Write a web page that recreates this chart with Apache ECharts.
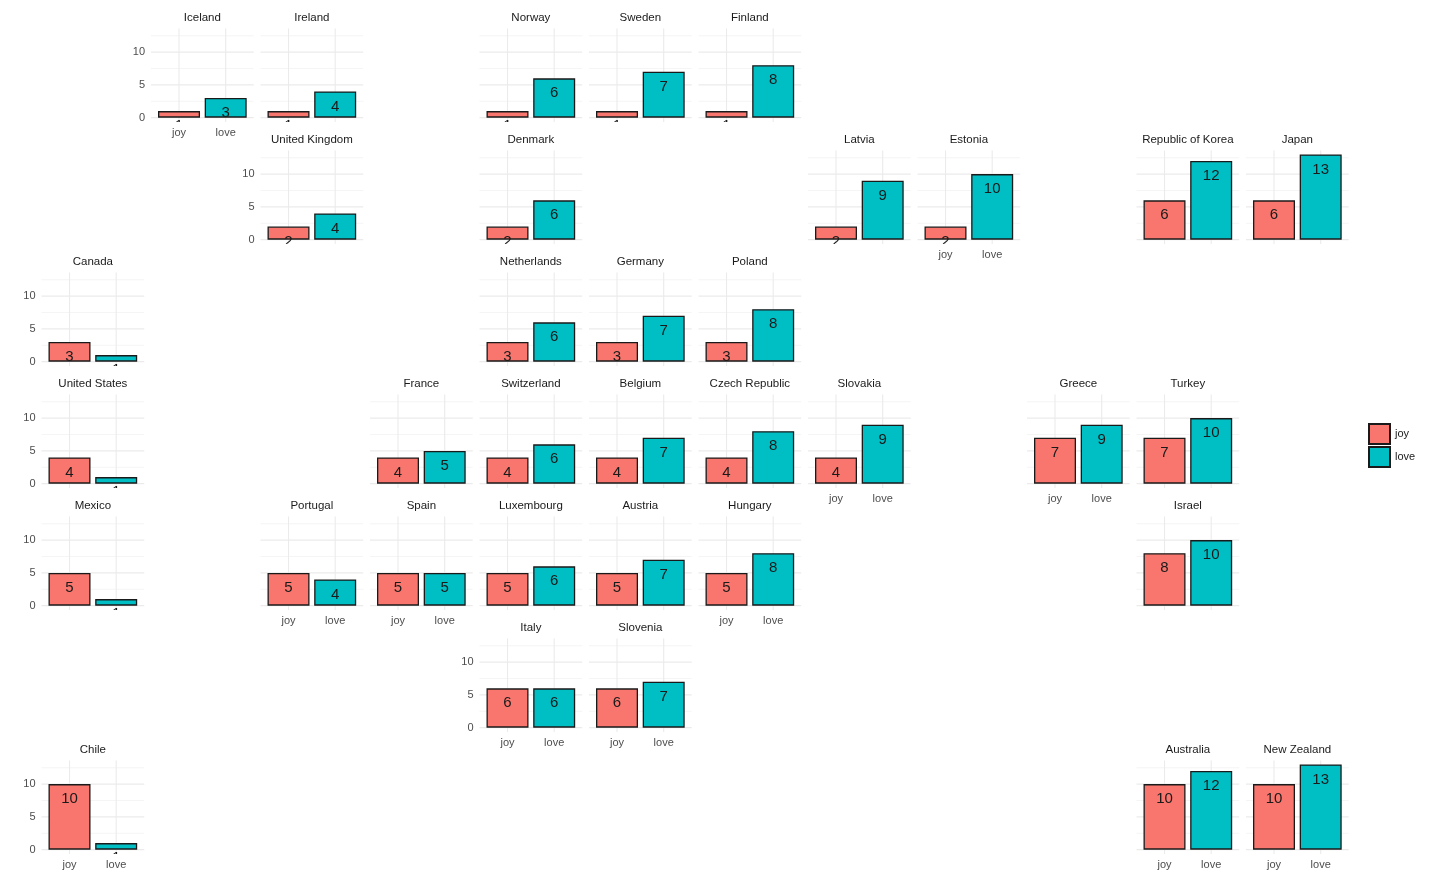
<!DOCTYPE html>
<html>
<head>
<meta charset="utf-8">
<script src="https://cdn.jsdelivr.net/npm/echarts@6/dist/echarts.min.js"></script>
<style>html,body{margin:0;padding:0;background:#fff}#c{width:1430px;height:894px}</style>
</head>
<body>
<div id="c"></div>
<script>
const categories = ['joy', 'love'];
const countries = ['Iceland','Ireland','Norway','Sweden','Finland',
  'United Kingdom','Denmark','Latvia','Estonia','Republic of Korea','Japan',
  'Canada','Netherlands','Germany','Poland',
  'United States','France','Switzerland','Belgium','Czech Republic','Slovakia','Greece','Turkey',
  'Mexico','Portugal','Spain','Luxembourg','Austria','Hungary','Israel',
  'Italy','Slovenia',
  'Chile','Australia','New Zealand'];
const gridRow = [0,0,0,0,0, 1,1,1,1,1,1, 2,2,2,2, 3,3,3,3,3,3,3,3, 4,4,4,4,4,4,4, 5,5, 6,6,6];
const gridCol = [1,2,4,5,6, 2,4,7,8,10,11, 0,4,5,6, 0,3,4,5,6,7,9,10, 0,2,3,4,5,6,10, 4,5, 0,10,11];
const joyValues  = [1,1,1,1,1, 2,2,2,2,6,6, 3,3,3,3, 4,4,4,4,4,4,7,7, 5,5,5,5,5,5,8, 6,6, 10,10,10];
const loveValues = [3,4,6,7,8, 4,6,9,10,12,13, 1,6,7,8, 1,5,6,7,8,9,9,10, 1,4,5,6,7,8,10, 6,7, 1,12,13];
const yTicks = [0, 5, 10];
const yMinor = [2.5, 7.5, 12.5];
const colors = {joy: '#F8766D', love: '#00BFC4'};

const FONT = '"Liberation Sans", Arial, sans-serif';
const panelW = 102.7, panelH = 93.7, colPitch = 109.5, rowPitch = 122;
const left0 = 41.5, top0 = 28.2;

const leftMost = {}, bottomMost = {};
countries.forEach((c, i) => {
  const r = gridRow[i], k = gridCol[i];
  if (leftMost[r] === undefined || gridCol[leftMost[r]] > k) leftMost[r] = i;
  if (bottomMost[k] === undefined || gridRow[bottomMost[k]] < r) bottomMost[k] = i;
});
const showY = new Set(Object.values(leftMost));
const showX = new Set(Object.values(bottomMost));

// grid line specs: [kind, value] kind 0 = major horizontal, 1 = minor horizontal, 2 = vertical at category
const gridLineData = [
  ...yTicks.map(v => [0, v]),
  ...yMinor.map(v => [1, v]),
  ...categories.map((c, j) => [2, j + 1])
];

const grids = [], xAxes = [], yAxes = [], series = [], titles = [];
countries.forEach((name, i) => {
  const L = left0 + gridCol[i] * colPitch;
  const T = top0 + gridRow[i] * rowPitch;
  grids.push({left: L, top: T, width: panelW, height: panelH, containLabel: false});
  titles.push({
    text: name, left: L + panelW / 2, top: T - 16.5, textAlign: 'center', padding: 0,
    textStyle: {fontSize: 11.5, fontWeight: 'normal', color: '#1a1a1a', fontFamily: FONT}
  });
  xAxes.push({
    gridIndex: i, type: 'value', min: 0.4, max: 2.6,
    axisLine: {show: false}, axisTick: {show: false}, splitLine: {show: false},
    axisLabel: {
      show: showX.has(i), customValues: [1, 2], margin: 6,
      formatter: v => categories[Math.round(v) - 1] || '',
      fontSize: 11, color: '#4d4d4d', fontFamily: FONT
    }
  });
  yAxes.push({
    gridIndex: i, type: 'value', min: -0.65, max: 13.65,
    axisLine: {show: false}, axisTick: {show: false}, splitLine: {show: false},
    axisLabel: {
      show: showY.has(i), customValues: yTicks, margin: 6,
      fontSize: 11, color: '#4d4d4d', fontFamily: FONT
    }
  });
  // background grid lines
  series.push({
    type: 'custom', name: 'grid' + i, xAxisIndex: i, yAxisIndex: i, z: 0, silent: true, clip: true,
    data: gridLineData, encode: {x: -1, y: -1},
    renderItem: (params, api) => {
      const cs = params.coordSys;
      const kind = api.value(0), v = api.value(1);
      let shape;
      if (kind === 2) {
        const p = api.coord([v, 0]);
        shape = {x1: p[0], y1: cs.y, x2: p[0], y2: cs.y + cs.height};
      } else {
        const p = api.coord([1, v]);
        shape = {x1: cs.x, y1: p[1], x2: cs.x + cs.width, y2: p[1]};
      }
      return {
        type: 'line', shape,
        style: {stroke: kind === 1 ? '#F3F3F3' : '#EBEBEB', lineWidth: kind === 1 ? 0.8 : 1.1}
      };
    },
    animation: false
  });
  const vals = [joyValues[i], loveValues[i]];
  categories.forEach((cat, j) => {
    series.push({
      type: 'bar', name: cat, xAxisIndex: i, yAxisIndex: i, z: 2,
      barWidth: 42, barGap: '-100%',
      data: [[j + 1, vals[j]]],
      itemStyle: {color: colors[cat], borderColor: '#1a1a1a', borderWidth: 1.3},
      animation: false
    });
  });
  series.push({
    type: 'custom', name: 'lab' + i, xAxisIndex: i, yAxisIndex: i, z: 3, clip: true, silent: true,
    data: [[1, vals[0]], [2, vals[1]]],
    encode: {x: 0, y: 1},
    renderItem: (params, api) => {
      const p = api.coord([api.value(0), api.value(1)]);
      return {
        type: 'text', x: p[0], y: p[1] + 15,
        style: {text: String(api.value(1)), align: 'center', verticalAlign: 'middle',
          fontSize: 15, fill: '#1a1a1a', fontFamily: FONT}
      };
    },
    animation: false
  });
});

const chart = echarts.init(document.getElementById('c'), null, {renderer: 'canvas'});
chart.setOption({
  backgroundColor: '#fff',
  animation: false,
  title: titles,
  grid: grids, xAxis: xAxes, yAxis: yAxes,
  legend: {
    data: categories, orient: 'vertical', left: 1368, top: 423, padding: 0,
    itemWidth: 21, itemHeight: 20, itemGap: 1, icon: 'rect',
    textStyle: {fontSize: 11, color: '#1a1a1a', fontFamily: FONT}
  },
  series: series
});
</script>
</body>
</html>
